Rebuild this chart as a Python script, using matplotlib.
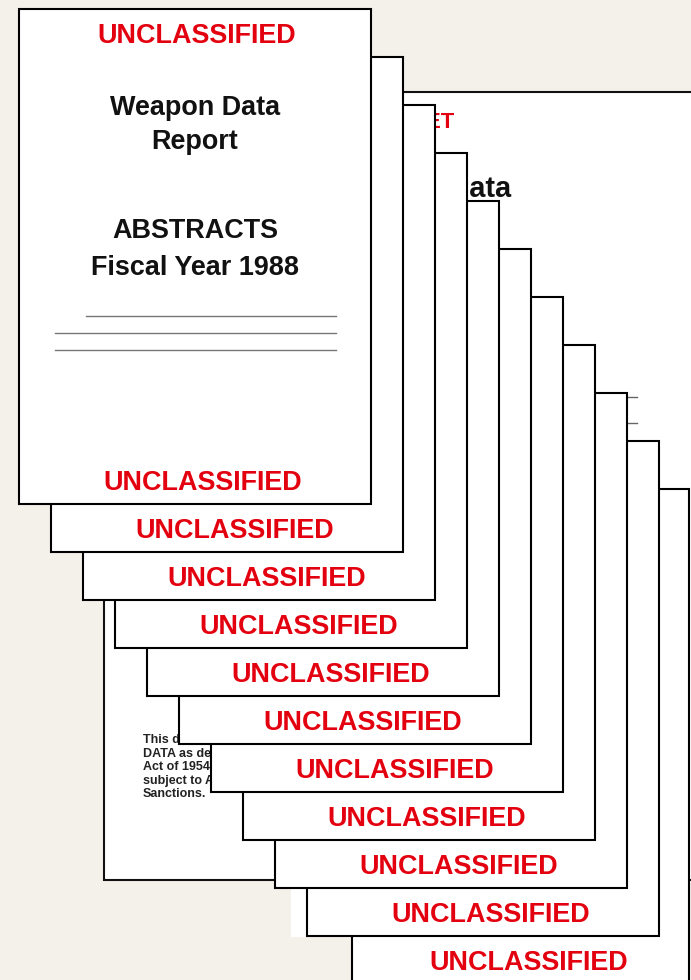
import matplotlib.pyplot as plt
from matplotlib.patches import Rectangle

# stacked report pages, drawn in pixel coordinates
bg = '#f4f1ea'
red = '#e3000f'
font = 'Liberation Sans'

n_pages = 11
page_labels = ['UNCLASSIFIED'] * n_pages
cover_title = ['Weapon Data', 'Report']
cover_sub = ['ABSTRACTS', 'Fiscal Year 1988']
back_mark = 'SECRET'
back_title = 'Weapon Data'
# only the part that peeks out from under the pages
back_notice = ['This doc',
               'DATA as defi',
               'Act of 1954. U',
               'subject to Adm',
               'Sanctions.']

W, H = 691, 980
fig = plt.figure(figsize=(W / 100, H / 100), dpi=100)
fig.patch.set_facecolor(bg)
ax = fig.add_axes([0, 0, 1, 1])
ax.set_xlim(0, W)
ax.set_ylim(H, 0)
ax.axis('off')
ax.set_facecolor(bg)

def px(p):
    return p * 0.72  # px -> pt at 100 dpi

# back document
ax.add_patch(Rectangle((104, 92), 700, 788, facecolor='white', edgecolor='#111', lw=1.5, zorder=1))
ax.add_patch(Rectangle((291, 870), 40, 67, facecolor='white', edgecolor='none', zorder=1.2))
ax.text(455, 128, back_mark, color=red, fontsize=px(22), fontweight='bold', family=font,
        ha='right', va='baseline', zorder=1.5)
ax.text(511, 197, back_title, color='#111', fontsize=px(29), fontweight='bold', family=font,
        ha='right', va='baseline', zorder=1.5)
for yy in [397, 423]:
    ax.plot([420, 637], [yy, yy], color='#666', lw=1.0, zorder=1.5)
for i, line in enumerate(back_notice):
    ax.text(143, 743 + 13.5 * i, line, color='#222', fontsize=px(12.5), fontweight='bold',
            family=font, ha='left', va='baseline', zorder=1.5)

# the fanned pages, page 0 in front
for k in range(n_pages):
    if k < 10:
        left, top, w = 19 + 32 * k, 9 + 48 * k, 352
    else:
        left, top, w = 352, 489, 337
    h = 495
    z = 10 + (n_pages - k) * 2
    ax.add_patch(Rectangle((left, top), w, h, facecolor='white', edgecolor='black', lw=1.5, zorder=z))
    ax.text(left + w / 2 + 8, top + h - 14, page_labels[k], color=red, fontsize=px(27),
            fontweight='bold', family=font, ha='center', va='baseline', zorder=z + 1)

# cover page content
zc = 10 + n_pages * 2 + 1
ax.text(197, 43, page_labels[0], color=red, fontsize=px(27), fontweight='bold', family=font,
        ha='center', va='baseline', zorder=zc)
for txt, yb in zip(cover_title, [115, 149]):
    ax.text(195, yb, txt, color='#111', fontsize=px(27), fontweight='bold', family=font,
            ha='center', va='baseline', zorder=zc)
for txt, yb in zip(cover_sub, [238, 275]):
    ax.text(195, yb, txt, color='#111', fontsize=px(27), fontweight='bold', family=font,
            ha='center', va='baseline', zorder=zc)
for x0, yy in [(86, 316), (55, 333), (55, 350)]:
    ax.plot([x0, 336], [yy, yy], color='#777', lw=1.0, zorder=zc)

fig.savefig('out.png', dpi=100, facecolor=bg)
